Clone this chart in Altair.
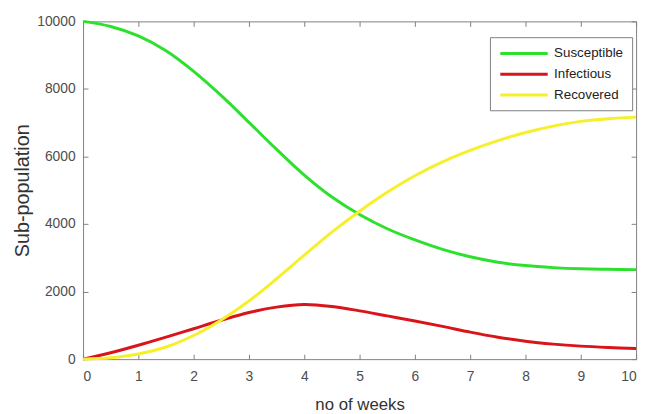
import altair as alt
import pandas as pd

weeks = [0, 0.5, 1, 1.5, 2, 2.5, 3, 3.5, 4, 4.5, 5, 5.5, 6, 6.5, 7, 7.5, 8, 8.5, 9, 9.5, 10]
susceptible = [10000, 9850, 9570, 9130, 8520, 7800, 7010, 6210, 5450, 4800, 4280,
               3860, 3530, 3250, 3030, 2870, 2770, 2710, 2675, 2660, 2650]
infectious = [0, 190, 410, 650, 900, 1150, 1380, 1540, 1620, 1560, 1430,
              1280, 1130, 970, 800, 650, 530, 445, 385, 345, 315]
recovered = [0, 40, 150, 360, 700, 1160, 1720, 2380, 3080, 3760, 4380,
             4940, 5430, 5840, 6180, 6470, 6710, 6900, 7040, 7120, 7165]

series_names = ["Susceptible", "Infectious", "Recovered"]
series_colors = ["#2ee02e", "#d9141a", "#f5f02a"]
x_ticks = list(range(0, 11))
y_ticks = [0, 2000, 4000, 6000, 8000, 10000]

rows = []
for k, (name, vals) in enumerate(zip(series_names, [susceptible, infectious, recovered])):
    for t, v in zip(weeks, vals):
        rows.append({"week": t, "value": v, "series": name, "series_order": k})
df = pd.DataFrame(rows)

font = "Liberation Sans"
xscale = alt.Scale(domain=[0, 10], nice=False)
yscale = alt.Scale(domain=[0, 10000], nice=False)

lines = alt.Chart(df).mark_line(strokeWidth=3, interpolate="catmull-rom").encode(
    x=alt.X("week:Q", scale=xscale,
            axis=alt.Axis(orient="bottom", values=x_ticks, title="no of weeks", format="d",
                          offset=-5, tickSize=5, labelPadding=11, titlePadding=13)),
    y=alt.Y("value:Q", scale=yscale,
            axis=alt.Axis(orient="left", values=y_ticks, title="Sub-population", format="d",
                          offset=-5, tickSize=5, labelPadding=8, titlePadding=4,
                          titleFontSize=20)),
    color=alt.Color("series:N",
                    scale=alt.Scale(domain=series_names, range=series_colors),
                    sort=series_names,
                    legend=alt.Legend(title=None, orient="none", legendX=412, legendY=16,
                                      symbolType="M-4,0H4", symbolSize=144,
                                      symbolStrokeWidth=3, symbolOffset=18,
                                      labelOffset=23, rowPadding=7,
                                      labelFontSize=13.5, labelFont=font,
                                      labelColor="#222222",
                                      strokeColor="#808080", fillColor="white",
                                      padding=9)),
    order=alt.Order("series_order:Q"),
)

frame = alt.Chart(df).mark_line(opacity=0).encode(
    x=alt.X("week:Q", scale=xscale,
            axis=alt.Axis(orient="top", values=x_ticks, title=None, labels=False,
                          offset=-5, tickSize=5)),
    y=alt.Y("value:Q", scale=yscale,
            axis=alt.Axis(orient="right", values=y_ticks, title=None, labels=False,
                          offset=-5, tickSize=5)),
    detail="series:N",
)

chart = alt.layer(lines, frame).resolve_axis(
    x="independent", y="independent"
).properties(
    width=560, height=342, autosize="none",
    padding={"left": 76, "top": 11, "right": 7, "bottom": 53},
).configure_view(
    stroke="#808080", strokeWidth=1
).configure_axis(
    domain=False, grid=False, tickColor="#808080", tickWidth=1,
    labelFont=font, labelFontSize=14, labelColor="#4d4d4d",
    titleFont=font, titleFontSize=17, titleColor="#333333", titleFontWeight="normal",
)

chart.save("out.html", embed_options={"renderer": "svg", "actions": False})
